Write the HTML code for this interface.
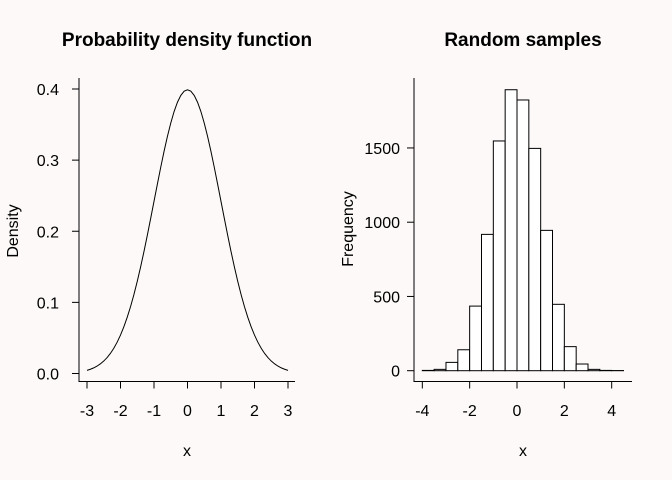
<!DOCTYPE html>
<html><head><meta charset="utf-8"><style>
body{margin:0;background:#fcf9f8;}
svg{display:block;font-family:"Liberation Sans",sans-serif;}
</style></head><body>
<svg id="c" width="672" height="480" viewBox="0 0 672 480">
<rect width="672" height="480" fill="#fcf9f8"/>
<text x="187" y="46" text-anchor="middle" font-size="19" font-weight="bold">Probability density function</text>
<text x="523" y="46" text-anchor="middle" font-size="19" font-weight="bold">Random samples</text>
<text x="187" y="456" text-anchor="middle" font-size="16">x</text>
<text x="523" y="456" text-anchor="middle" font-size="16">x</text>
<text transform="translate(18,231) rotate(-90)" text-anchor="middle" font-size="16">Density</text>
<text transform="translate(353,229) rotate(-90)" text-anchor="middle" font-size="16">Frequency</text>
<path d="M79,78V381.5H295" fill="none" stroke="#000"/>
<path d="M414,78V381.5H632" fill="none" stroke="#000"/>
<g id="g"></g>
</svg>
<script>
const pdfX=[-3,-2.9,-2.8,-2.7,-2.6,-2.5,-2.4,-2.3,-2.2,-2.1,-2,-1.9,-1.8,-1.7,-1.6,-1.5,-1.4,-1.3,-1.2,-1.1,-1,-0.9,-0.8,-0.7,-0.6,-0.5,-0.4,-0.3,-0.2,-0.1,0,0.1,0.2,0.3,0.4,0.5,0.6,0.7,0.8,0.9,1,1.1,1.2,1.3,1.4,1.5,1.6,1.7,1.8,1.9,2,2.1,2.2,2.3,2.4,2.5,2.6,2.7,2.8,2.9,3];
const pdfY=[0.0044,0.0060,0.0079,0.0104,0.0136,0.0175,0.0224,0.0283,0.0355,0.0440,0.0540,0.0656,0.0790,0.0940,0.1109,0.1295,0.1497,0.1714,0.1942,0.2179,0.2420,0.2661,0.2897,0.3123,0.3332,0.3521,0.3683,0.3814,0.3910,0.3970,0.3989,0.3970,0.3910,0.3814,0.3683,0.3521,0.3332,0.3123,0.2897,0.2661,0.2420,0.2179,0.1942,0.1714,0.1497,0.1295,0.1109,0.0940,0.0790,0.0656,0.0540,0.0440,0.0355,0.0283,0.0224,0.0175,0.0136,0.0104,0.0079,0.0060,0.0044];
const pdfXTicks=[-3,-2,-1,0,1,2,3];
const pdfYTicks=["0.0","0.1","0.2","0.3","0.4"];
const binStarts=[-4,-3.5,-3,-2.5,-2,-1.5,-1,-0.5,0,0.5,1,1.5,2,2.5,3,3.5,4];
const binCounts=[2,9,56,141,435,918,1547,1892,1823,1497,945,447,162,45,9,2,1];
const histXTicks=[-4,-2,0,2,4];
const histYTicks=[0,500,1000,1500];
const binWidth=0.5;

const NS="http://www.w3.org/2000/svg",g=document.getElementById('g');
const px=v=>87+(v+3)*33.5, py=v=>373.5-v*711.25;
const hx=v=>517+v*23.67, hy=v=>370.7-v*0.1485;
function mk(t,a){const e=document.createElementNS(NS,t);for(const k in a)e.setAttribute(k,a[k]);g.appendChild(e);return e;}
pdfXTicks.forEach(t=>{
 const l=mk('line',{x1:px(t),x2:px(t),y1:381.5,y2:388.5,stroke:'#000'});
 
 
 const s=mk('text',{x:px(t),y:416,'text-anchor':'middle','font-size':16});s.textContent=t;
 
 
});
pdfYTicks.forEach(t=>{
 const v=parseFloat(t);
 const l=mk('line',{x1:72,x2:79,y1:py(v),y2:py(v),stroke:'#000'});
 
 
 const s=mk('text',{x:59,y:py(v)+6,'text-anchor':'end','font-size':16});s.textContent=t;
 
 
});
const curve=mk('polyline',{points:pdfX.map((x,i)=>px(x)+','+py(pdfY[i])).join(' '),fill:'none',stroke:'#000'});


binStarts.forEach((b,i)=>{
 const r=mk('rect',{x:hx(b),y:hy(binCounts[i]),width:hx(b+binWidth)-hx(b),height:hy(0)-hy(binCounts[i]),fill:'#fff',stroke:'#000'});
 
 
});
histXTicks.forEach(t=>{
 const l=mk('line',{x1:hx(t),x2:hx(t),y1:381.5,y2:388.5,stroke:'#000'});
 
 
 const s=mk('text',{x:hx(t),y:416,'text-anchor':'middle','font-size':16});s.textContent=t;
 
 
});
histYTicks.forEach(t=>{
 const l=mk('line',{x1:407,x2:414,y1:hy(t),y2:hy(t),stroke:'#000'});
 
 
 const s=mk('text',{x:400,y:hy(t)+6,'text-anchor':'end','font-size':16});s.textContent=t;
 
 
});
</script>
</body></html>
